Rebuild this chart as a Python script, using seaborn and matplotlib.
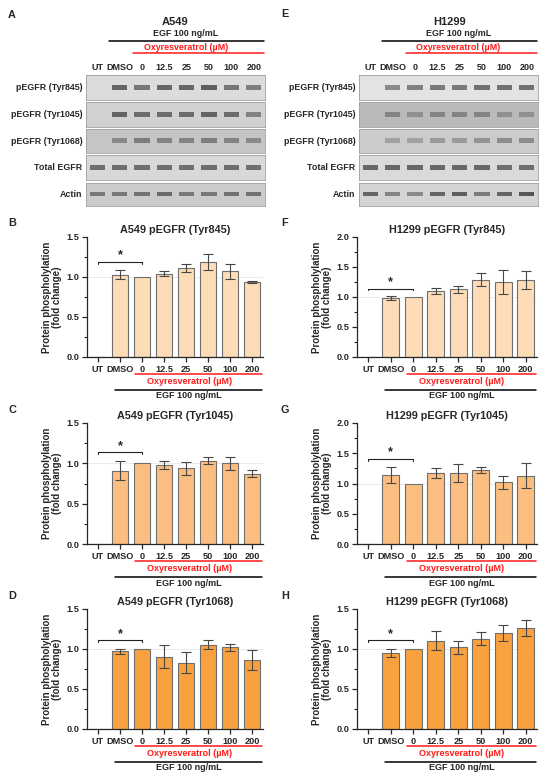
import numpy as np
import pandas as pd
import matplotlib
matplotlib.use('Agg')
import matplotlib.pyplot as plt
import matplotlib.transforms as mtransforms
from matplotlib.colors import to_rgb
from matplotlib.ticker import MultipleLocator, FormatStrFormatter
import seaborn as sns

# lanes / conditions
lanes = ['UT', 'DMSO', '0', '12.5', '25', '50', '100', '200']
blot_rows = ['pEGFR (Tyr845)', 'pEGFR (Tyr1045)', 'pEGFR (Tyr1068)', 'Total EGFR', 'Actin']

# band darkness (0-1)
a549_bands = [
    [0, .75, .65, .75, .75, .80, .65, .60],
    [0, .75, .70, .70, .70, .75, .70, .55],
    [0, .45, .55, .50, .50, .55, .50, .45],
    [.70, .70, .70, .70, .70, .70, .70, .70],
    [.60, .60, .65, .70, .60, .60, .65, .65],
]
h1299_bands = [
    [0, .55, .60, .65, .65, .70, .70, .70],
    [0, .45, .35, .45, .45, .45, .35, .35],
    [0, .30, .30, .35, .35, .40, .45, .45],
    [.75, .75, .75, .75, .75, .75, .70, .70],
    [.75, .55, .50, .75, .80, .60, .75, .85],
]
a549_bg = ['#dcdcdc', '#d1d1d1', '#c5c5c5', '#d8d8d8', '#cbcbcb']
h1299_bg = ['#e3e3e3', '#bababa', '#cbcbcb', '#dadada', '#d4d4d4']

# densitometry (fold change) mean and error
a549_y845 = [0, 1.03, 1.00, 1.04, 1.11, 1.19, 1.07, 0.94]
a549_y845_err = [0, 0.06, 0, 0.03, 0.05, 0.10, 0.09, 0.01]
a549_y1045 = [0, 0.91, 1.00, 0.975, 0.94, 1.035, 1.00, 0.87]
a549_y1045_err = [0, 0.12, 0, 0.05, 0.08, 0.045, 0.08, 0.045]
a549_y1068 = [0, 0.97, 1.00, 0.905, 0.83, 1.055, 1.02, 0.865]
a549_y1068_err = [0, 0.035, 0, 0.14, 0.13, 0.06, 0.045, 0.125]
h1299_y845 = [0, 0.98, 1.00, 1.10, 1.13, 1.29, 1.25, 1.29]
h1299_y845_err = [0, 0.03, 0, 0.045, 0.06, 0.11, 0.20, 0.15]
h1299_y1045 = [0, 1.14, 1.00, 1.175, 1.17, 1.22, 1.02, 1.13]
h1299_y1045_err = [0, 0.135, 0, 0.08, 0.145, 0.05, 0.105, 0.21]
h1299_y1068 = [0, 0.95, 1.00, 1.105, 1.02, 1.13, 1.20, 1.26]
h1299_y1068_err = [0, 0.05, 0, 0.115, 0.085, 0.08, 0.105, 0.10]

col_845 = '#fddcb8'
col_1045 = '#fbbe80'
col_1068 = '#f9a13f'

sns.set_style('ticks')
plt.rcParams['font.family'] = ['Liberation Sans', 'DejaVu Sans']
plt.rcParams['font.weight'] = 'bold'
plt.rcParams['axes.titleweight'] = 'bold'
plt.rcParams['axes.labelweight'] = 'bold'

W, H = 550, 780
fig = plt.figure(figsize=(W / 100, H / 100), dpi=100)
pix = mtransforms.Affine2D().scale(1 / W, -1 / H).translate(0, 1) + fig.transFigure


def px_axes(x0, x1, y0, y1):
    return fig.add_axes([x0 / W, 1 - y1 / H, (x1 - x0) / W, (y1 - y0) / H])


row_px = [(75, 100), (102, 127), (129, 153), (155, 180), (183, 206)]


def blot_panel(x0, x1, bands, bgs, cell, cell_x, txt_x):
    axes = []
    for (y0, y1), name, inten, bg in zip(row_px, blot_rows, bands, bgs):
        ax = px_axes(x0, x1, y0, y1)
        ax.set_facecolor(bg)
        bgc = np.array(to_rgb(bg))
        dark = np.array(to_rgb('#404040'))
        cols = [tuple(bgc + (dark - bgc) * v) for v in inten]
        ax.bar(range(len(lanes)), 0.19, bottom=0.42, width=0.68, color=cols, linewidth=0)
        ax.set_xlim(-0.5, 7.5)
        ax.set_ylim(0, 1)
        ax.set_xticks([])
        ax.set_yticks([])
        for s in ax.spines.values():
            s.set_color('#a0a0a0')
            s.set_linewidth(0.6)
        ax.text(-0.02, 0.5, name, transform=ax.transAxes, ha='right', va='center', fontsize=6.4)
        axes.append(ax)
    top = axes[0]
    tr = mtransforms.blended_transform_factory(top.transData, pix)
    for i, lab in enumerate(lanes):
        top.text(i, 68, lab, transform=tr, ha='center', va='center', fontsize=6.5)
    top.plot([0.55, 7.45], [41, 41], transform=tr, color='black', lw=1.1, clip_on=False)
    top.text(txt_x, 34, 'EGF 100 ng/mL', transform=tr, ha='center', va='center', fontsize=6.4)
    top.plot([1.6, 7.45], [53, 53], transform=tr, color='#ff1a1a', lw=1.1, clip_on=False)
    top.text(txt_x, 47.5, 'Oxyresveratrol (µM)', transform=tr, ha='center', va='center',
             fontsize=6.4, color='#ff1a1a')
    top.text(cell_x, 22, cell, transform=tr, ha='center', va='center', fontsize=8)


def bar_panel(x0, x1, y0, y1, means, errs, color, ymax, title, bracket_y):
    ax = px_axes(x0, x1, y0, y1)
    df = pd.DataFrame({'lane': lanes, 'value': means})
    sns.barplot(data=df, x='lane', y='value', order=lanes, color=color, width=0.75,
                saturation=1, edgecolor='#6e6e6e', linewidth=0.8, ax=ax)
    idx = [i for i, e in enumerate(errs) if e > 0]
    ax.errorbar(idx, [means[i] for i in idx], yerr=[errs[i] for i in idx], fmt='none',
                ecolor='#474747', elinewidth=0.8, capsize=3.5, capthick=0.8, zorder=5)
    ax.axhline(1.0, color='#e8e8e8', lw=0.6, zorder=0)
    ax.set_xlim(-0.5, 7.5)
    ax.set_ylim(0, ymax)
    ax.yaxis.set_major_locator(MultipleLocator(0.5))
    ax.yaxis.set_minor_locator(MultipleLocator(0.25))
    ax.yaxis.set_major_formatter(FormatStrFormatter('%.1f'))
    ax.tick_params(axis='both', which='major', labelsize=6.6, length=3.5, width=0.9, pad=2)
    ax.tick_params(axis='y', which='minor', length=2, width=0.8)
    for s in ['left', 'bottom']:
        ax.spines[s].set_linewidth(0.9)
    sns.despine(ax=ax)
    ax.set_xlabel('')
    ax.set_ylabel('Protein phospholylation\n(fold change)', fontsize=7, labelpad=3, linespacing=1.1)
    ax.set_title(title, fontsize=7.8, pad=3)
    # significance bracket UT vs 0
    tk = ymax * 0.015
    ax.plot([0, 0, 2, 2], [bracket_y - tk, bracket_y, bracket_y, bracket_y - tk],
            color='#222222', lw=0.8, clip_on=False)
    ax.text(1, bracket_y + ymax * 0.003, '*', ha='center', va='bottom', fontsize=9)
    # treatment annotation below
    tr = mtransforms.blended_transform_factory(ax.transData, pix)
    ax.plot([1.7, 7.45], [y1 + 16.5, y1 + 16.5], transform=tr, color='#ff1a1a', lw=1.1, clip_on=False)
    ax.text(4.15, y1 + 24.5, 'Oxyresveratrol (µM)', transform=tr, ha='center', va='center',
            fontsize=6.5, color='#ff1a1a')
    ax.plot([0.75, 7.45], [y1 + 32.5, y1 + 32.5], transform=tr, color='black', lw=1.1, clip_on=False)
    ax.text(4.15, y1 + 39, 'EGF 100 ng/mL', transform=tr, ha='center', va='center', fontsize=6.5)
    return ax


# blots
blot_panel(86, 265, a549_bands, a549_bg, 'A549', 3.47, 3.97)
blot_panel(359, 538, h1299_bands, h1299_bg, 'H1299', 3.56, 3.95)

# quantification
bar_panel(87, 263, 237, 357, a549_y845, a549_y845_err, col_845, 1.5, 'A549 pEGFR (Tyr845)', 1.19)
bar_panel(87, 263, 423, 544, a549_y1045, a549_y1045_err, col_1045, 1.5, 'A549 pEGFR (Tyr1045)', 1.14)
bar_panel(87, 263, 609, 729, a549_y1068, a549_y1068_err, col_1068, 1.5, 'A549 pEGFR (Tyr1068)', 1.11)
bar_panel(357, 537, 237, 357, h1299_y845, h1299_y845_err, col_845, 2.0, 'H1299 pEGFR (Tyr845)', 1.14)
bar_panel(357, 537, 423, 544, h1299_y1045, h1299_y1045_err, col_1045, 2.0, 'H1299 pEGFR (Tyr1045)', 1.41)
bar_panel(357, 537, 609, 729, h1299_y1068, h1299_y1068_err, col_1068, 1.5, 'H1299 pEGFR (Tyr1068)', 1.11)

# panel letters
for lab, x, y in [('A', 12, 15), ('B', 12, 223), ('C', 12, 410), ('D', 12, 596),
                  ('E', 285, 14), ('F', 285, 223), ('G', 285, 410), ('H', 285, 596)]:
    fig.text(x / W, 1 - y / H, lab, ha='center', va='center', fontsize=7.8, fontweight='bold')

fig.savefig('out.png', dpi=100, facecolor='white')
